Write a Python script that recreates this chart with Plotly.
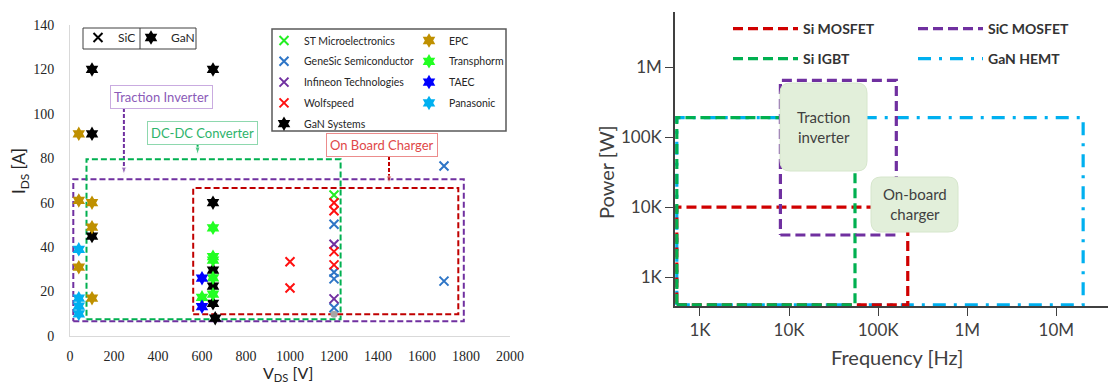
import plotly.graph_objects as go

W, H = 1108, 383

# ---------------- left panel: device ratings (V_DS vs I_DS) ----------------
st_v, st_i = [1200], [63.5]
genesic_v = [1200, 1200, 1200, 1200, 1700, 1700]
genesic_i = [50.3, 28.7, 25.7, 12.7, 76.5, 24.7]
infineon_v = [1200, 1200]
infineon_i = [41.3, 16.7]
wolfspeed_v = [1200, 1200, 1200, 1200, 1000, 1000]
wolfspeed_i = [60, 56.4, 38, 32, 33.4, 21.6]
gansys_v = [100, 650, 100, 100, 650, 650, 650, 650, 660]
gansys_i = [120, 120, 91, 45, 60, 29.7, 22.5, 14.7, 8]
epc_v = [40, 40, 100, 100, 40, 100]
epc_i = [91, 61, 60, 49, 31, 17]
transphorm_v = [650, 650, 650, 650, 650, 600]
transphorm_i = [48.7, 35.7, 34.2, 26.2, 18.8, 17.4]
taec_v = [600, 600]
taec_i = [26, 13.2]
panasonic_v = [40, 40, 40, 40]
panasonic_i = [39, 17, 13.5, 10]
other_v, other_i = [1200], [9.8]

# application windows
app_names = ["Traction Inverter", "DC-DC Converter", "On Board Charger"]
app_v_min = [15, 75, 560]
app_v_max = [1790, 1230, 1765]
app_i_min = [6.6, 7.5, 9.8]
app_i_max = [70.6, 79.6, 66.6]
app_label_v = [418, 602, 1420]
app_label_i = [107.5, 91.4, 86.0]
app_arrow_v = [245, 580, 1450]
app_arrow_top = [102.6, 86.4, 81.0]

v_ticks = list(range(0, 2001, 200))
i_ticks = list(range(0, 141, 20))

# ---------------- right panel: power vs switching frequency ----------------
tech_names = ["GaN HEMT", "Si MOSFET", "Si IGBT", "SiC MOSFET"]
f_min = [550, 550, 550, 8e3]
f_max = [20e6, 215e3, 55e3, 160e3]
p_min = [400, 400, 400, 4e3]
p_max = [190e3, 10e3, 190e3, 650e3]

f_tick_vals = [1e3, 1e4, 1e5, 1e6, 1e7]
f_tick_text = ["1K", "10K", "100K", "1M", "10M"]
p_tick_vals = [1e3, 1e4, 1e5, 1e6]
p_tick_text = ["1K", "10K", "100K", "1M"]

SANS = "Lato"
SERIF = "Liberation Serif"


def px(x):
    return x / W


def py(y):
    return 1 - y / H


fig = go.Figure()


def sic(name, v, i, color, legend):
    fig.add_trace(go.Scatter(
        x=v, y=i, mode="markers", name=name, legend=legend, legendgroup=name,
        cliponaxis=False,
        marker=dict(symbol="x-thin", size=9, line=dict(width=2, color=color), color=color),
        xaxis="x", yaxis="y"))


def gan(name, v, i, color, legend):
    fig.add_trace(go.Scatter(
        x=v, y=i, mode="markers", name=name, legend=legend, legendgroup=name,
        cliponaxis=False,
        marker=dict(symbol="hexagram", size=11, color=color, line=dict(width=0)),
        xaxis="x", yaxis="y"))


# application boxes and their pointer arrows
app_colors = ["#7030A0", "#00B050", "#C00000"]
for k in range(3):
    fig.add_trace(go.Scatter(
        x=[app_v_min[k], app_v_max[k], app_v_max[k], app_v_min[k], app_v_min[k]],
        y=[app_i_min[k], app_i_min[k], app_i_max[k], app_i_max[k], app_i_min[k]],
        mode="lines", showlegend=False, hoverinfo="skip",
        line=dict(color=app_colors[k], width=2, dash="6px,3px"),
        xaxis="x", yaxis="y"))
    fig.add_trace(go.Scatter(
        x=[app_arrow_v[k], app_arrow_v[k]],
        y=[app_arrow_top[k], app_i_max[k] + 2.0],
        mode="lines+markers", showlegend=False, hoverinfo="skip", cliponaxis=False,
        line=dict(color=app_colors[k], width=2, dash="4px,2px"),
        marker=dict(symbol=["circle", "arrow"], size=[0, 8], angleref="previous",
                    color=app_colors[k]),
        xaxis="x", yaxis="y"))

sic("ST Microelectronics", st_v, st_i, "#22EE22", "legend")
sic("GeneSic Semiconductor", genesic_v, genesic_i, "#2E75C6", "legend")
sic("Infineon Technologies", infineon_v, infineon_i, "#7030A0", "legend")
sic("Wolfspeed", wolfspeed_v, wolfspeed_i, "#FF1010", "legend")
gan("GaN Systems", gansys_v, gansys_i, "#000000", "legend")
gan("EPC", epc_v, epc_i, "#BF9000", "legend2")
gan("Transphorm", transphorm_v, transphorm_i, "#22FF22", "legend2")
gan("TAEC", taec_v, taec_i, "#0000FF", "legend2")
gan("Panasonic", panasonic_v, panasonic_i, "#00B0F0", "legend2")
fig.add_trace(go.Scatter(x=other_v, y=other_i, mode="markers", showlegend=False,
                         marker=dict(symbol="circle", size=7, color="#A6A6A6"),
                         xaxis="x", yaxis="y"))

# technology key (SiC / GaN)
fig.add_trace(go.Scatter(x=[None], y=[None], mode="markers", name="SiC", legend="legend3",
                         marker=dict(symbol="x-thin", size=9, line=dict(width=2, color="black")),
                         xaxis="x", yaxis="y"))
fig.add_trace(go.Scatter(x=[None], y=[None], mode="markers", name="GaN", legend="legend4",
                         marker=dict(symbol="hexagram", size=11, color="black"),
                         xaxis="x", yaxis="y"))

# right panel operating regions
tech_style = {
    "Si MOSFET": ("#D00000", "10px,5px", "legend5"),
    "SiC MOSFET": ("#7030A0", "10px,5px", "legend6"),
    "Si IGBT": ("#00B050", "10px,5px", "legend7"),
    "GaN HEMT": ("#00B0F0", "13px,8px,3px,8px", "legend8"),
}
for k, name in enumerate(tech_names):
    color, dash, leg = tech_style[name]
    fig.add_trace(go.Scatter(
        x=[f_min[k], f_max[k], f_max[k], f_min[k], f_min[k]],
        y=[p_min[k], p_min[k], p_max[k], p_max[k], p_min[k]],
        mode="lines", name=name, legend=leg, hoverinfo="skip",
        line=dict(color=color, width=3.2, dash=dash),
        xaxis="x2", yaxis="y2"))

axis_font_l = dict(family=SERIF, size=14, color="#262626")
axis_font_r = dict(family=SANS, size=17, color="#404040")

fig.update_layout(
    width=W, height=H, margin=dict(l=0, r=0, t=0, b=0, autoexpand=False),
    paper_bgcolor="white", plot_bgcolor="white",
    font=dict(family=SANS, color="#262626"),
    xaxis=dict(domain=[px(70), px(510)], range=[0, 2000], anchor="y",
               showline=True, linecolor="#D9D9D9", linewidth=1, showgrid=False,
               zeroline=False, ticks="", tickvals=v_ticks, tickfont=axis_font_l,
               ticklabelstandoff=7),
    yaxis=dict(domain=[py(336), py(25)], range=[0, 140], anchor="x",
               showline=True, linecolor="#D9D9D9", linewidth=1, showgrid=False,
               zeroline=False, ticks="", tickvals=i_ticks, tickfont=axis_font_l,
               ticklabelstandoff=12),
    xaxis2=dict(domain=[px(675), 1.0], type="log", range=[2.72, 7.58], anchor="y2",
                showline=True, linecolor="#404040", linewidth=1.5, showgrid=False,
                zeroline=False, ticks="outside", ticklen=8, tickcolor="#404040",
                tickvals=f_tick_vals, ticktext=f_tick_text, tickfont=axis_font_r,
                layer="below traces"),
    yaxis2=dict(domain=[py(306), py(12)], type="log", range=[2.587, 6.79], anchor="x2",
                showline=True, linecolor="#404040", linewidth=1.5, showgrid=False,
                zeroline=False, ticks="outside", ticklen=8, tickcolor="#404040",
                tickvals=p_tick_vals, ticktext=p_tick_text, tickfont=axis_font_r,
                layer="below traces"),
)

leg_common = dict(xanchor="left", yanchor="top", bgcolor="rgba(0,0,0,0)",
                  borderwidth=0, orientation="v")
left_leg_font = dict(family=SANS, size=10.5, color="#262626")
right_leg_font = dict(family=SANS, size=14, color="#333333", weight="bold")
fig.update_layout(
    legend=dict(x=px(264), y=py(26), font=left_leg_font, traceorder="grouped",
                tracegroupgap=1.8, **leg_common),
    legend2=dict(x=px(409), y=py(26), font=left_leg_font, traceorder="grouped",
                 tracegroupgap=1.8, **leg_common),
    legend3=dict(x=px(78), y=py(23), font=dict(family=SANS, size=12, color="#262626"), **leg_common),
    legend4=dict(x=px(131), y=py(23), font=dict(family=SANS, size=12, color="#262626"), **leg_common),
    legend5=dict(x=px(728), y=py(13), font=right_leg_font, itemwidth=65, **leg_common),
    legend6=dict(x=px(913), y=py(13), font=right_leg_font, itemwidth=65, **leg_common),
    legend7=dict(x=px(728), y=py(43), font=right_leg_font, itemwidth=65, **leg_common),
    legend8=dict(x=px(913), y=py(43), font=right_leg_font, itemwidth=65, **leg_common),
)

shapes = [
    # manufacturer key frame
    dict(type="rect", xref="paper", yref="paper", x0=px(272), x1=px(506), y0=py(131), y1=py(29),
         line=dict(color="#595959", width=1.5)),
    # SiC / GaN key frame and divider
    dict(type="rect", xref="paper", yref="paper", x0=px(83), x1=px(196), y0=py(49), y1=py(28),
         line=dict(color="#404040", width=1)),
    dict(type="line", xref="paper", yref="paper", x0=px(140), x1=px(140), y0=py(49), y1=py(28),
         line=dict(color="#404040", width=1)),
]


def rounded_box(x0, y0, x1, y1, r=10):
    X0, X1 = px(x0), px(x1)
    Y0, Y1 = py(y1), py(y0)
    rx, ry = r / W, r / H
    path = (f"M{X0+rx},{Y1} L{X1-rx},{Y1} Q{X1},{Y1} {X1},{Y1-ry} "
            f"L{X1},{Y0+ry} Q{X1},{Y0} {X1-rx},{Y0} L{X0+rx},{Y0} "
            f"Q{X0},{Y0} {X0},{Y0+ry} L{X0},{Y1-ry} Q{X0},{Y1} {X0+rx},{Y1} Z")
    return dict(type="path", xref="paper", yref="paper", path=path, layer="above",
                fillcolor="#E2EFDA", line=dict(color="#D6E6CC", width=1))


shapes.append(rounded_box(780, 83, 867, 171))
shapes.append(rounded_box(871, 177, 958, 232))
fig.update_layout(shapes=shapes)

label_styles = [
    ("#8B5BB8", "#C9ABE0"),
    ("#2DB36A", "#8ED8AE"),
    ("#E04848", "#EC8C8C"),
]
annotations = []
for k in range(3):
    tc, bc = label_styles[k]
    annotations.append(dict(
        x=app_label_v[k], y=app_label_i[k], xref="x", yref="y", text=app_names[k],
        xanchor="center", yanchor="middle",
        showarrow=False, font=dict(family=SANS, size=13, color=tc),
        bgcolor="white", bordercolor=bc, borderwidth=1, borderpad=3))

mid = dict(xref="paper", yref="paper", xanchor="center", yanchor="middle", showarrow=False)
annotations += [
    dict(x=px(20), y=py(171), text="I<sub>DS</sub> [A]", textangle=-90,
         font=dict(family=SANS, size=17, color="#262626"), **mid),
    dict(x=px(288), y=py(373), text="V<sub>DS</sub> [V]",
         font=dict(family=SANS, size=16, color="#262626"), **mid),
    dict(x=px(606), y=py(172), text="Power [W]", textangle=-90,
         font=dict(family=SANS, size=20, color="#404040"), **mid),
    dict(x=px(897), y=py(357), text="Frequency [Hz]",
         font=dict(family=SANS, size=20, color="#404040"), **mid),
    dict(x=px(823.5), y=py(127), text="Traction<br>inverter",
         font=dict(family=SANS, size=15, color="#404040"), **mid),
    dict(x=px(914.5), y=py(204.5), text="On-board<br>charger",
         font=dict(family=SANS, size=15, color="#404040"), **mid),
]
fig.update_layout(annotations=annotations)

fig.write_html("out.html")
